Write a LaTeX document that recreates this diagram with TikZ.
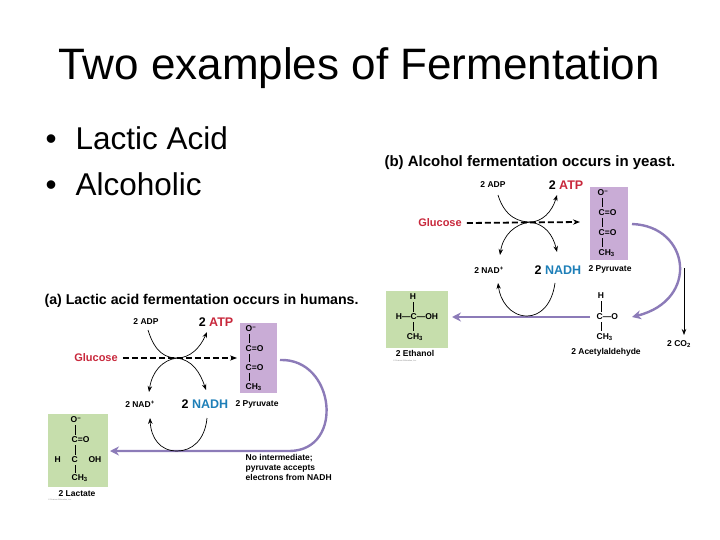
\documentclass[tikz,border=0pt]{standalone}
\usepackage{fontspec}
\setmainfont{Liberation Sans}
\usetikzlibrary{arrows.meta}
\definecolor{pur}{HTML}{8C7BB8}
\definecolor{pbox}{HTML}{C9ACD6}
\definecolor{gbox}{HTML}{C6DEAC}
\definecolor{red1}{HTML}{C8283C}
\definecolor{blu}{HTML}{1E7FB8}
\tikzset{
 sm/.style={font=\fontsize{8.5}{10}\selectfont\bfseries,inner sep=0.5pt},
 lb/.style={font=\fontsize{11}{12}\selectfont\bfseries,inner sep=1pt},
 big/.style={font=\fontsize{12.5}{13}\selectfont\bfseries,inner sep=1pt},
 thin/.style={black,line width=0.7pt,-{Stealth[length=6pt]}},
 fat/.style={pur,line width=2.4pt,-{Stealth[length=9pt,width=9pt]}},
 dsh/.style={black,line width=1.8pt,dash pattern=on 6pt off 3pt,-{Stealth[length=7pt]}},
 bond/.style={black,line width=0.5pt}
}
\begin{document}
\begin{tikzpicture}[x=1pt,y=-1pt]
\useasboundingbox (0,0) rectangle (720,540);
\node (title) at (359,68) {\fontsize{44}{48}\selectfont Two examples of Fermentation};
\node[anchor=west,font=\fontsize{31.5}{34}\selectfont] (b1) at (42,138) {•\hspace{19pt}Lactic Acid};
\node[anchor=west,font=\fontsize{31.5}{34}\selectfont] (b2) at (42,184) {•\hspace{19pt}Alcoholic};

% ===== panel b =====
\node[anchor=west,font=\fontsize{15}{17}\selectfont\bfseries] (tb) at (381,163) {(b) Alcohol fermentation occurs in yeast.};
\node[sm] (adpb) at (493,185) {2 ADP};
\node[big] (atpb) at (566,185) {2 \textcolor{red1}{ATP}};
\node[lb,text=red1] (glb) at (440,223) {Glucose};
\coordinate (xb) at (530,222);
\coordinate (dbe) at (580,222);
\draw[dsh] (glb.east) ++(4,0) -- (dbe);
\draw[thin] (498,195) .. controls (505,218) and (520,222) .. (xb) .. controls (542,222) and (552,212) .. (557,195);
\draw[thin] (xb) .. controls (545,224) and (553,235) .. (557,252);
\draw[thin] (xb) .. controls (515,224) and (503,235) .. (500,255);
\node[sm] (nadb) at (489,270) {2 NAD\textsuperscript{+}};
\node[big] (nadhb) at (558,270) {2 \textcolor{blu}{NADH}};
\fill[pbox] (590,187) rectangle (628,260);
\node[sm] (pb1) at (603,193) {O\textsuperscript{−}};
\node[sm,anchor=west] (pb2) at (598,213) {C=O};
\node[sm,anchor=west] (pb3) at (598,233) {C=O};
\node[sm,anchor=west] (pb4) at (598,253) {CH\textsubscript{3}};
\draw[bond] (602,198)--(602,207) (602,218)--(602,227) (602,238)--(602,247);
\node[sm] (pyb) at (610,269) {2 Pyruvate};
\fill[gbox] (386,291) rectangle (448,348);
\node[sm] (e1) at (413,297) {H};
\node[sm] (e2) at (417,317) {H—C—OH};
\node[sm] (e3) at (415,337) {CH\textsubscript{3}};
\draw[bond] (413,302)--(413,312) (413,322)--(413,331);
\node[sm] (eth) at (415,353) {2 Ethanol};
\node[sm] (a1) at (601,296) {H};
\node[sm,anchor=west] (a2) at (596,317) {C—O};
\node[sm,anchor=west] (a3) at (596,337) {CH\textsubscript{3}};
\draw[bond] (601,301)--(601,312) (601,322)--(601,331);
\node[sm] (acb) at (606,352) {2 Acetylaldehyde};
\node[sm] (co2) at (679,344) {2 CO\textsubscript{2}};
\draw[fat] (632,224) .. controls (690,226) and (700,300) .. (632,317);
\draw[thin] (684,268) -- (684,335);
\draw[fat] (590,317) -- (452,317);
\draw[thin] (555,283) .. controls (552,305) and (540,316) .. (527,316) .. controls (510,316) and (500,300) .. (498,283);
\node[font=\fontsize{2}{2}\selectfont,text=gray] (cpb) at (405,361) {© Pearson Education, Inc.};

% ===== panel a =====
\node[anchor=west,font=\fontsize{14.2}{16}\selectfont\bfseries] (ta) at (41,301) {(a) Lactic acid fermentation occurs in humans.};
\node[sm] (adpa) at (146,322) {2 ADP};
\node[big] (atpa) at (216,322) {2 \textcolor{red1}{ATP}};
\node[lb,text=red1] (gla) at (96,358) {Glucose};
\coordinate (xa) at (177,358);
\coordinate (dae) at (237,358);
\draw[dsh] (gla.east) ++(4,0) -- (dae);
\draw[thin] (148,330) .. controls (155,353) and (166,358) .. (xa) .. controls (190,358) and (200,348) .. (207,332);
\draw[thin] (xa) .. controls (192,360) and (200,372) .. (206,390);
\draw[thin] (xa) .. controls (162,360) and (152,372) .. (149,392);
\node[sm] (nada) at (140,404) {2 NAD\textsuperscript{+}};
\node[big] (nadha) at (205,404) {2 \textcolor{blu}{NADH}};
\fill[pbox] (240,323) rectangle (277,393);
\node[sm] (pa1) at (251,329) {O\textsuperscript{−}};
\node[sm,anchor=west] (pa2) at (245,349) {C=O};
\node[sm,anchor=west] (pa3) at (245,368) {C=O};
\node[sm,anchor=west] (pa4) at (245,387) {CH\textsubscript{3}};
\draw[bond] (249,334)--(249,343) (249,354)--(249,362) (249,373)--(249,381);
\node[sm] (pya) at (257,404) {2 Pyruvate};
\fill[gbox] (48,414) rectangle (108,487);
\node[sm] (l1) at (76,420) {O\textsuperscript{−}};
\node[sm,anchor=west] (l2) at (71,440) {C=O};
\node[sm] (l3) at (78,460) {H\quad\ C\quad\ OH};
\node[sm,anchor=west] (l4) at (71,478) {CH\textsubscript{3}};
\draw[bond] (75,425)--(75,435) (75,445)--(75,455) (75,465)--(75,473);
\node[sm] (lac) at (77,494) {2 Lactate};
\draw[fat] (280,360) .. controls (335,358) and (345,450) .. (290,451) -- (110,451);
\draw[thin] (207,418) .. controls (205,440) and (192,451) .. (177,451) .. controls (160,451) and (151,438) .. (150,418);
\node[anchor=north west,sm,align=left] (note) at (245,454) {No intermediate;\\pyruvate accepts\\electrons from NADH};
\node[font=\fontsize{2}{2}\selectfont,text=gray] (cpa) at (60,500) {© Pearson Education, Inc.};
\end{tikzpicture}
\end{document}
